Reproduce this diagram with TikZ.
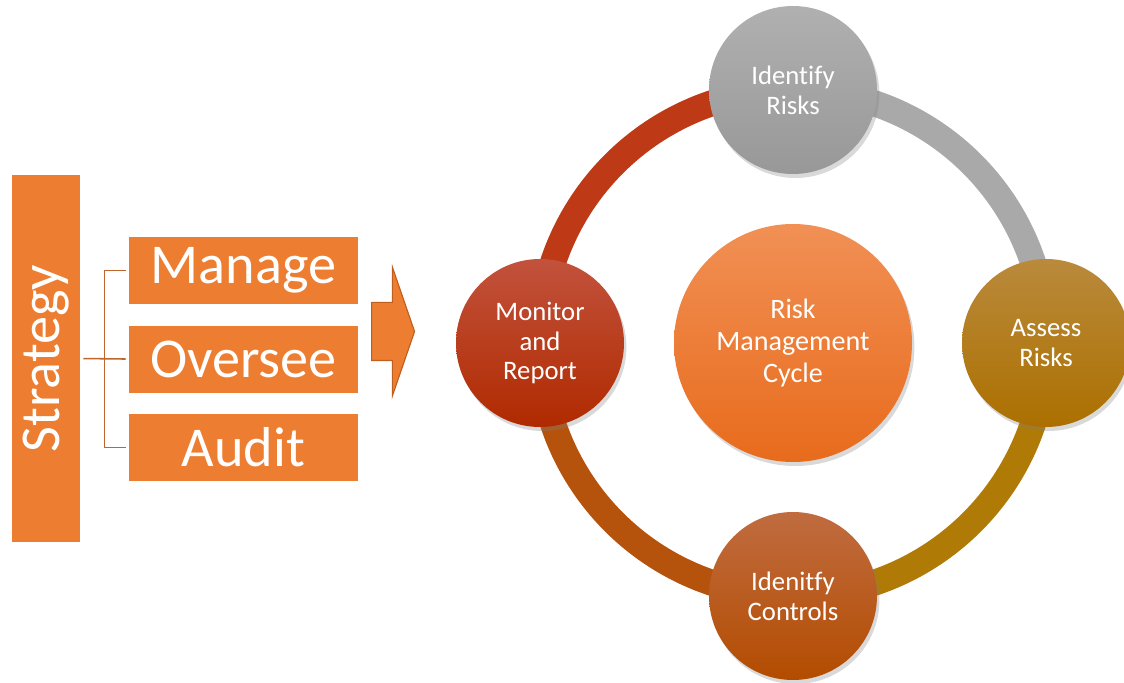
\documentclass[tikz,border=0pt]{standalone}
\usepackage{fontspec}
\setmainfont{Carlito}[Ligatures=NoCommon]
\usetikzlibrary{shapes.arrows, shadows, positioning, math, calc, backgrounds}

\definecolor{boxOrange}{HTML}{ED7D31}
\definecolor{lineBrown}{HTML}{C0652B}
\definecolor{arrowEdge}{HTML}{BF5E1E}
\definecolor{identTop}{HTML}{B0B0B0}
\definecolor{identBot}{HTML}{989898}
\definecolor{assessTop}{HTML}{BA8A3C}
\definecolor{assessBot}{HTML}{AC7000}
\definecolor{monTop}{HTML}{C2523C}
\definecolor{monBot}{HTML}{B02A00}
\definecolor{ctrlTop}{HTML}{C06C40}
\definecolor{ctrlBot}{HTML}{B34C00}
\definecolor{hubTop}{HTML}{F19055}
\definecolor{hubBot}{HTML}{E86B1C}
\definecolor{ringRed}{HTML}{BE3A16}
\definecolor{ringGray}{HTML}{A9A9A9}
\definecolor{ringGold}{HTML}{B07A06}
\definecolor{ringBrown}{HTML}{B5520C}

\begin{document}
\begin{tikzpicture}
	\tikzmath{
		\ringR   = 6.325; %dist between hub centre and each satellite (cm)
		\ringW   = 6.5;   %ring width (mm)
		\satD    = 42;    %satellite diameter (mm)
		\hubD    = 59.5;  %hub diameter (mm)
		\boxW    = 57.25; %box width (mm)
		\boxH    = 16.75; %box height (mm)
		\boxDist = 5.25;  %distance between boxes (mm)
	}
	\tikzstyle{Box} = [
		minimum width=\boxW mm,
		minimum height=\boxH mm,
		inner sep=0pt,
		text centered,
		fill=boxOrange,
		text=white,
		font=\fontsize{40}{48}\selectfont
	]
	\tikzstyle{Bracket} = [draw=lineBrown, line width=1.1pt]
	\tikzstyle{Arrow} = [
		single arrow,
		draw=arrowEdge,
		fill=boxOrange,
		line width=0.8pt,
		inner xsep=0pt,
		inner ysep=7.125mm,
		minimum height=10.75mm,
		single arrow head extend=8.875mm,
		single arrow tip angle=142
	]
	\tikzstyle{Shadow} = [drop shadow={opacity=0.3, shadow xshift=0.6mm, shadow yshift=-1mm}]
	\tikzstyle{Sat} = [
		circle,
		on grid,
		minimum size=\satD mm,
		inner sep=0pt,
		align=center,
		text=white,
		font=\fontsize{19}{21.3}\selectfont,
		Shadow
	]
	\tikzstyle{Hub} = [Sat, minimum size=\hubD mm, font=\fontsize{20}{22.7}\selectfont]
	\tikzstyle{Ring} = [line width=\ringW mm]
	
	\useasboundingbox (0,0) rectangle (28.1,17.05);
	
	%%%%%%%%%%%%%%%%%%%%%%%%%%===---LEFT SIDE---===%%%%%%%%%%%%%%%%%%%%%%%%%%
	\node (strat) [Box, rotate=90, minimum width=91.75mm, minimum height=17mm] at (1.15,8.0875) {Strategy};
		\node (manage)  [Box] at (6.0875,10.2875)             {Manage};
		\node (oversee) [Box, below = \boxDist mm of manage]  {Oversee};
		\node (audit)   [Box, below = \boxDist mm of oversee] {Audit};
	\coordinate (fork) at ($(strat.south)!0.5!(oversee.west)$);
	\draw[Bracket, shorten <=0.75mm, shorten >=0.75mm] (manage.west) -| (fork) |- (audit.west);
	\draw[Bracket, shorten >=0.75mm] (fork) -- (oversee.west);
	\draw[Bracket, shorten <=0.75mm] (strat.south) -- (fork);
	
	\node (arrow) [Arrow, anchor=tail] at (9.275,8.7625) {};
	
	%%%%%%%%%%%%%%%%%%%%%%%%%%===---CYCLE---===%%%%%%%%%%%%%%%%%%%%%%%%%%
	\node (hub) [Hub, top color=hubTop, bottom color=hubBot] at (19.825,8.475) {Risk\\Management\\Cycle};
		\node (idr) [Sat, above = \ringR cm of hub, top color=identTop,  bottom color=identBot]  {Identify\\Risks};
		\node (ass) [Sat, right = \ringR cm of hub, top color=assessTop, bottom color=assessBot] {Assess\\Risks};
		\node (ctl) [Sat, below = \ringR cm of hub, top color=ctrlTop,   bottom color=ctrlBot]   {Idenitfy\\Controls};
		\node (mon) [Sat, left  = \ringR cm of hub, top color=monTop,    bottom color=monBot]    {Monitor\\and\\Report};
	
	\begin{scope}[on background layer]
		\draw[Ring, draw=ringRed]   (idr.center) to[bend right=45] (mon.center);
		\draw[Ring, draw=ringBrown] (mon.center) to[bend right=45] (ctl.center);
		\draw[Ring, draw=ringGold]  (ctl.center) to[bend right=45] (ass.center);
		\draw[Ring, draw=ringGray]  (ass.center) to[bend right=45] (idr.center);
	\end{scope}
\end{tikzpicture}
\end{document}
